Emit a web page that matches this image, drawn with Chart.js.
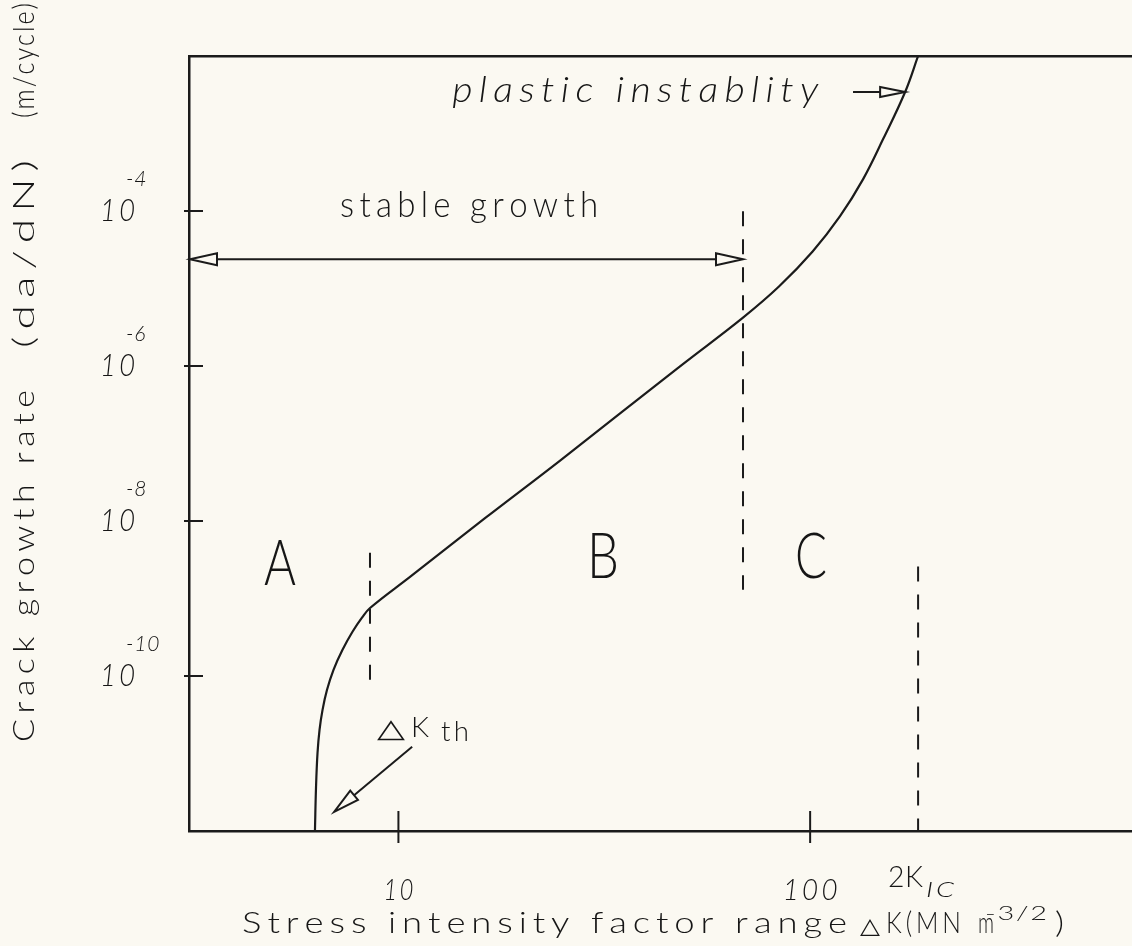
<!DOCTYPE html>
<html>
<head>
<meta charset="utf-8">
<title>Fatigue crack growth</title>
<script src="https://cdn.jsdelivr.net/npm/chart.js@4.4.1/dist/chart.umd.min.js"></script>
<style>
  html, body { margin: 0; padding: 0; background: #fbf9f2; overflow: hidden; }
  canvas { display: block; }
</style>
</head>
<body>
<canvas id="chart" width="1132" height="946"></canvas>
<script>
// Fatigue crack growth curve, da/dN against stress intensity factor range ΔK (log-log).
const deltaK    = [6.27, 6.308, 6.361, 6.433, 6.542, 6.708, 6.956, 7.315, 7.735, 8.157, 8.532, 10.67, 16.2, 24.7, 48.3, 68.7, 84.0, 101.4, 118.2, 134.5, 150.4, 170.1, 182.9];
const crackRate = [1e-12, 3.70e-12, 1.018e-11, 2.017e-11, 3.66e-11, 6.63e-11, 1.202e-10, 2.18e-10, 3.72e-10, 5.65e-10, 7.54e-10, 1.90e-9, 1.08e-8, 6.03e-8, 9.9e-7, 4.21e-6, 1.06e-5, 3.0e-5, 8.57e-5, 2.58e-4, 8.47e-4, 3.43e-3, 1e-2];

// Axis ranges and ticks
const kRange    = [3.1, 605];
const rateRange = [1e-12, 1e-2];
const kTicks      = [10, 100];
const kTickLabels = ['10', '100'];
const rateTicks    = [1e-10, 1e-8, 1e-6, 1e-4];
const rateTickExps = ['-10', '-8', '-6', '-4'];

// Region boundaries (dashed verticals)
const thresholdK      = 8.53;
const thresholdSpan   = [3.9e-9, 6.6e-11];
const transitionK     = 68.7;
const transitionSpan  = [9.9e-5, 1.3e-9];
const twoKIC          = 182.9;
const fractureSpan    = [2.58e-9, 1e-12];

// Region letters
const regionLetters = ['A', 'B', 'C'];
const regionK       = [5.16, 31.4, 100.5];
const regionRate    = [1.51e-9, 1.86e-9, 1.86e-9];

// Annotation arrows and their captions
const stableArrowK    = [3.1, 68.7];
const stableArrowRate = 2.38e-5;
const stableLabelAt   = [14.85, 8.3e-5];
const plasticArrowK    = [127.1, 170.1];
const plasticArrowRate = 3.43e-3;
const plasticLabelAt   = [37.6, 2.55e-3];
const thresholdArrowK    = [10.8, 6.98];
const thresholdArrowRate = [1.22e-11, 1.76e-12];
const thresholdLabelAt   = [8.87, 1.64e-11];

const INK  = '#1b1b1b';
const TEXT = '#161616';
const FACE = 'Lato, "Open Sans", "DejaVu Sans", sans-serif';
const font = (size, italic, weight = 300) => `${italic ? 'italic ' : ''}${weight} ${size}px ${FACE}`;

// Plotter-style lettering: glyphs with a fixed gap, stretched to run from left to right.
function letters(ctx, str, left, right, base, o = {}) {
  const size = o.size || 29, gapEm = o.gap == null ? 0.16 : o.gap;
  ctx.font = font(size, !!o.italic, o.weight || 300);
  const chars = [...str];
  const widths = chars.map(c => ctx.measureText(c).width);
  const gap = gapEm * size;
  const natural = widths.reduce((a, b) => a + b, 0) + gap * (chars.length - 1);
  const sx = right == null ? 1 : (right - left) / natural;
  ctx.save();
  ctx.translate(left, base);
  ctx.scale(sx, 1);
  let x = 0;
  chars.forEach((c, i) => { ctx.fillText(c, x, 0); x += widths[i] + gap; });
  ctx.restore();
}

// Open triangular arrow head with its tip at (tx, ty); the shaft starts at (fx, fy).
function arrow(ctx, fx, fy, tx, ty, len = 26, half = 6) {
  const d = Math.hypot(tx - fx, ty - fy);
  const ux = (fx - tx) / d, uy = (fy - ty) / d;
  const bx = tx + ux * len, by = ty + uy * len;
  ctx.beginPath();
  ctx.moveTo(fx, fy); ctx.lineTo(bx, by); ctx.stroke();
  ctx.beginPath();
  ctx.moveTo(tx, ty);
  ctx.lineTo(bx - uy * half, by + ux * half);
  ctx.lineTo(bx + uy * half, by - ux * half);
  ctx.closePath();
  ctx.stroke();
}

const decorations = {
  id: 'decorations',
  afterDraw(chart) {
    const ctx = chart.ctx;
    const xs = chart.scales.x, ys = chart.scales.y;
    const area = chart.chartArea;
    ctx.save();
    ctx.strokeStyle = INK;
    ctx.fillStyle = TEXT;
    ctx.lineWidth = 2;
    ctx.textAlign = 'left';
    ctx.textBaseline = 'alphabetic';

    // y ticks, drawn inward, with 10^n labels
    rateTicks.forEach((v, i) => {
      const py = ys.getPixelForValue(v);
      ctx.beginPath(); ctx.moveTo(area.left - 5, py); ctx.lineTo(area.left + 14, py); ctx.stroke();
      letters(ctx, '10', 100, 135, py + 10, { size: 31, italic: true, gap: 0.12 });
      letters(ctx, rateTickExps[i], 126, null, py - 25, { size: 21, italic: true, gap: 0.04 });
    });

    // x ticks crossing the axis, with labels
    kTicks.forEach((v, i) => {
      const px = xs.getPixelForValue(v);
      ctx.beginPath(); ctx.moveTo(px, area.bottom - 20); ctx.lineTo(px, area.bottom + 12); ctx.stroke();
      const lbl = kTickLabels[i];
      const w = lbl.length === 2 ? 30 : 55;
      letters(ctx, lbl, px - w / 2, px + w / 2, area.bottom + 69, { size: 29, italic: true, gap: 0.12 });
    });
    const kic = xs.getPixelForValue(twoKIC);
    letters(ctx, '2K', kic - 30, kic + 5, area.bottom + 56, { size: 29, gap: 0.02 });
    letters(ctx, 'IC', kic + 8, kic + 36, area.bottom + 66, { size: 21, italic: true, gap: 0.1 });

    // Axis titles
    const xt = area.bottom + 102;
    letters(ctx, 'Stress intensity factor range', 242, 847, xt, { size: 29 });
    letters(ctx, '△', 860, 880, xt, { size: 22, weight: 400 });
    letters(ctx, 'K(MN', 886, 961, xt, { size: 29 });
    letters(ctx, 'm', 978, 994, xt, { size: 29 });
    letters(ctx, '-3/2', 985, 1047, xt - 13, { size: 20, gap: 0.06 });
    letters(ctx, ')', 1055, 1064, xt, { size: 29 });

    ctx.save();
    ctx.translate(34, 0);
    ctx.rotate(-Math.PI / 2);
    letters(ctx, 'Crack growth rate', -742, -390, 0, { size: 30 });
    letters(ctx, '(da/dN)', -348, -160, 0, { size: 30 });
    letters(ctx, '(m/cycle)', -118, -3, 0, { size: 30, gap: 0.08 });
    ctx.restore();

    // Stable growth double arrow
    const sy = ys.getPixelForValue(stableArrowRate);
    const s0 = xs.getPixelForValue(stableArrowK[0]), s1 = xs.getPixelForValue(stableArrowK[1]);
    const mid = (s0 + s1) / 2;
    arrow(ctx, mid, sy, s0 + 1, sy, 27, 6);
    arrow(ctx, mid, sy, s1, sy, 27, 6);
    let lx = xs.getPixelForValue(stableLabelAt[0]), ly = ys.getPixelForValue(stableLabelAt[1]);
    letters(ctx, 'stable growth', lx - 129, lx + 129, ly, { size: 35, gap: 0.16 });

    // Plastic instability arrow
    const py = ys.getPixelForValue(plasticArrowRate);
    arrow(ctx, xs.getPixelForValue(plasticArrowK[0]), py, xs.getPixelForValue(plasticArrowK[1]), py, 25, 5);
    lx = xs.getPixelForValue(plasticLabelAt[0]); ly = ys.getPixelForValue(plasticLabelAt[1]);
    letters(ctx, 'plastic instablity', lx - 183, lx + 183, ly, { size: 35, italic: true, gap: 0.16 });

    // Threshold ΔK_th arrow
    arrow(ctx,
      xs.getPixelForValue(thresholdArrowK[0]), ys.getPixelForValue(thresholdArrowRate[0]),
      xs.getPixelForValue(thresholdArrowK[1]), ys.getPixelForValue(thresholdArrowRate[1]), 26, 6);
    lx = xs.getPixelForValue(thresholdLabelAt[0]); ly = ys.getPixelForValue(thresholdLabelAt[1]);
    letters(ctx, '△', lx, lx + 28, ly, { size: 26, weight: 400 });
    letters(ctx, 'K', lx + 34, lx + 52, ly, { size: 27 });
    letters(ctx, 'th', lx + 64, lx + 92, ly + 4, { size: 27, gap: 0.12 });

    // Region letters
    regionLetters.forEach((t, i) => {
      const x = xs.getPixelForValue(regionK[i]), y = ys.getPixelForValue(regionRate[i]);
      letters(ctx, t, x - 16, x + 16, y, { size: 64 });
    });
    ctx.restore();
  }
};

const dashed = (k, span) => ({
  data: span.map(r => ({ x: k, y: r })),
  borderColor: INK, borderWidth: 2, borderDash: [15, 13],
  pointRadius: 0, fill: false, tension: 0
});

function build() {
  const hidden = { display: false };
  new Chart(document.getElementById('chart'), {
    type: 'line',
    data: {
      datasets: [
        {
          data: deltaK.map((k, i) => ({ x: k, y: crackRate[i] })),
          borderColor: INK, borderWidth: 2.2, pointRadius: 0, fill: false,
          tension: 0.4
        },
        dashed(thresholdK, thresholdSpan),
        dashed(transitionK, transitionSpan),
        dashed(twoKIC, fractureSpan)
      ]
    },
    options: {
      responsive: false,
      animation: false,
      devicePixelRatio: 1,
      layout: { padding: 0 },
      plugins: { legend: hidden, tooltip: { enabled: false }, title: hidden },
      scales: {
        x: {
          type: 'logarithmic', position: 'bottom', min: kRange[0], max: kRange[1],
          grid: hidden, ticks: hidden,
          border: { display: true, color: INK, width: 2.5 },
          afterFit(s) { s.height = 115; }
        },
        xTop: {
          type: 'logarithmic', axis: 'x', position: 'top', min: kRange[0], max: kRange[1],
          grid: hidden, ticks: hidden,
          border: { display: true, color: INK, width: 2.5 },
          afterFit(s) { s.height = 56; }
        },
        y: {
          type: 'logarithmic', position: 'left', min: rateRange[0], max: rateRange[1],
          grid: hidden, ticks: hidden,
          border: { display: true, color: INK, width: 2.5 },
          afterFit(s) { s.width = 189; }
        }
      }
    },
    plugins: [decorations]
  });
}

const ready = document.fonts
  ? Promise.all([
      document.fonts.load(font(30, false)),
      document.fonts.load(font(30, true))
    ]).catch(() => {})
  : Promise.resolve();
ready.then(build);
</script>
</body>
</html>
